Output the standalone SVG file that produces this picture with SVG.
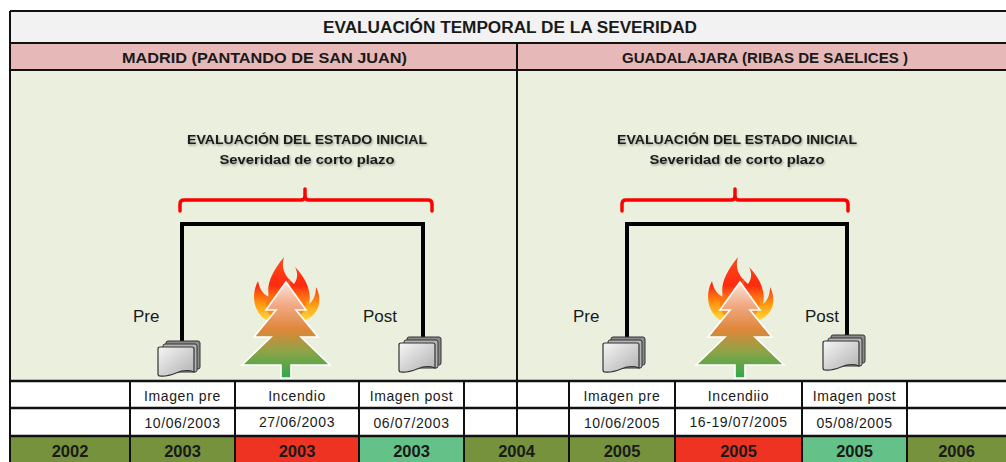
<svg xmlns="http://www.w3.org/2000/svg" width="1006" height="462" viewBox="0 0 1006 462">
  <style>
    .sans { font-family: "Liberation Sans", Arial, sans-serif; fill: #1a1a1a; }
    .title { font-size: 16px; font-weight: bold; }
    .site { font-size: 15px; font-weight: bold; }
    .head { font-size: 13px; font-weight: bold; }
    .tag { font-size: 17px; }
    .cell { font-size: 14px; letter-spacing: 0.6px; }
    .year { font-size: 16.5px; font-weight: bold; }
    .grid { stroke: #111; stroke-width: 2; fill: none; }
    .rule { stroke: #111; stroke-width: 2.6; fill: none; }
    .link { stroke: #000; stroke-width: 4; fill: none; }
    .brace { stroke: #f00; stroke-width: 3.5; fill: none; stroke-linejoin: round; stroke-linecap: round; }
  </style>
  <defs>
    <filter id="softShadow" x="-10%" y="-40%" width="120%" height="180%">
      <feDropShadow dx="1" dy="1.5" stdDeviation="1.2" flood-color="#000" flood-opacity="0.35"/>
    </filter>
    <linearGradient id="sheetFill" x1="0" y1="0" x2="1" y2="1">
      <stop offset="0" stop-color="#f6f6f6"/>
      <stop offset="1" stop-color="#b0b0b0"/>
    </linearGradient>
    <linearGradient id="flameFill" x1="0" y1="0" x2="0" y2="1">
      <stop offset="0" stop-color="#ff4a1a"/>
      <stop offset="0.45" stop-color="#ff2a10"/>
      <stop offset="0.75" stop-color="#ff9a10"/>
      <stop offset="1" stop-color="#ffd83a"/>
    </linearGradient>
    <linearGradient id="treeFill" x1="0" y1="0" x2="0" y2="1">
      <stop offset="0" stop-color="#fbe4d8"/>
      <stop offset="0.25" stop-color="#f1a882"/>
      <stop offset="0.5" stop-color="#de8638"/>
      <stop offset="0.72" stop-color="#8fa347"/>
      <stop offset="1" stop-color="#2fa84a"/>
    </linearGradient>

    <!-- stack of image sheets, 42 x 36 -->
    <g id="sheets">
      <rect x="8" y="0" width="34" height="28" rx="2" fill="#8a8a8a" stroke="#333" stroke-width="1"/>
      <rect x="5" y="3" width="34" height="28" rx="2" fill="#b5b5b5" stroke="#333" stroke-width="1"/>
      <path d="M0,8 Q0,6 2,6 L34,6 Q36,6 36,8 L36,31 Q28,28 18,32 Q8,36 2,35 Q0,35 0,33 Z" fill="url(#sheetFill)" stroke="#333" stroke-width="1.2"/>
    </g>

    <!-- burning tree, apex at (0,0) -->
    <g id="burningTree">
      <path d="M-20,38 C-33,30 -35,12 -28,-1 C-26,8 -23,12 -17,15 C-20,2 -14,-10 -2,-25 C-6,-12 1,-4 8,2 C12,-4 12,-9 9,-15 C20,-4 26,10 23,22 C28,18 30,12 30,5 C37,18 33,32 20,38 Z" fill="url(#flameFill)"/>
      <path d="M-12,36 C-22,30 -22,18 -16,10 C-14,18 -10,22 -6,24 C-8,14 -2,4 4,-4 C3,8 10,12 14,18 C16,14 16,12 15,8 C22,16 22,28 12,36 Z" fill="#ff6a12" opacity="0.55"/>
      <path d="M0,0 L20,28 L10,28 L32,55 L15,55 L44,83 L5,83 L5,96 L-5,96 L-5,83 L-44,83 L-15,55 L-32,55 L-10,28 L-20,28 Z" fill="url(#treeFill)" stroke="#ffffff" stroke-width="1.6" stroke-linejoin="miter"/>
    </g>
  </defs>

  <!-- background bands -->
  <rect x="10" y="11" width="996" height="32" fill="#f2f2f2"/>
  <rect x="10" y="43" width="996" height="27" fill="#e6b8b7"/>
  <rect x="10" y="70" width="996" height="311" fill="#ebf0de"/>
  <rect x="10" y="381" width="996" height="55" fill="#ffffff"/>

  <!-- year row -->
  <g id="years">
    <rect x="10" y="436" width="225" height="26" fill="#76923c"/>
    <rect x="235" y="436" width="124" height="26" fill="#ef3322"/>
    <rect x="359" y="436" width="105" height="26" fill="#64c188"/>
    <rect x="464" y="436" width="211" height="26" fill="#76923c"/>
    <rect x="675" y="436" width="127" height="26" fill="#ef3322"/>
    <rect x="802" y="436" width="105" height="26" fill="#64c188"/>
    <rect x="907" y="436" width="99" height="26" fill="#76923c"/>
  </g>

  <!-- frame and grid -->
  <g id="grid">
    <path class="grid" d="M10,11 H1006 M10,11 V462"/>
    <path class="grid" d="M10,43 H1006 M10,70 H1006"/>
    <path class="grid" d="M517,43 V408"/>
    <path class="rule" d="M10,381 H1006 M10,408 H1006 M10,436 H1006"/>
    <path class="grid" d="M130,381 V462 M235,381 V462 M359,381 V462 M464,381 V462 M569,381 V462 M675,381 V462 M802,381 V462 M907,381 V462"/>
    <path class="grid" d="M517,408 V436"/>
  </g>

  <!-- headings -->
  <text class="sans title" x="510" y="33" text-anchor="middle" textLength="374" lengthAdjust="spacingAndGlyphs">EVALUACIÓN TEMPORAL DE LA SEVERIDAD</text>
  <text class="sans site" x="264.5" y="63" text-anchor="middle" textLength="285" lengthAdjust="spacingAndGlyphs">MADRID (PANTANDO DE SAN JUAN)</text>
  <text class="sans site" x="765" y="63" text-anchor="middle" textLength="286" lengthAdjust="spacingAndGlyphs">GUADALAJARA (RIBAS DE SAELICES )</text>

  <!-- connectors -->
  <g id="connectors">
    <path class="link" d="M182,344 V224 H423 V340"/>
    <path class="link" d="M627,340 V224 H847 V338"/>
    <path class="brace" d="M180,211 V204 Q180,200 184,200 H301 Q305,200 305,196 V189 M305,196 Q305,200 309,200 H428 Q432,200 432,204 V211"/>
    <path class="brace" d="M622,211 V204 Q622,200 626,200 H731 Q735,200 735,196 V189 M735,196 Q735,200 739,200 H844 Q848,200 848,204 V211"/>
  </g>

  <!-- Madrid panel -->
  <g id="madrid-heading" filter="url(#softShadow)">
    <text class="sans head" x="307" y="144" text-anchor="middle" textLength="240" lengthAdjust="spacingAndGlyphs">EVALUACIÓN DEL ESTADO INICIAL</text>
    <text class="sans head" x="307" y="164" text-anchor="middle" textLength="175" lengthAdjust="spacingAndGlyphs">Severidad de corto plazo</text>
  </g>
  <g id="madrid-pre">
    <text class="sans tag" x="133" y="322">Pre</text>
    <use href="#sheets" transform="translate(158,341)"/>
  </g>
  <g id="madrid-fire">
    <use href="#burningTree" transform="translate(286,282)"/>
  </g>
  <g id="madrid-post">
    <text class="sans tag" x="363" y="322">Post</text>
    <use href="#sheets" transform="translate(399,337)"/>
  </g>

  <!-- Guadalajara panel -->
  <g id="guadalajara-heading" filter="url(#softShadow)">
    <text class="sans head" x="737" y="144" text-anchor="middle" textLength="240" lengthAdjust="spacingAndGlyphs">EVALUACIÓN DEL ESTADO INICIAL</text>
    <text class="sans head" x="737" y="164" text-anchor="middle" textLength="175" lengthAdjust="spacingAndGlyphs">Severidad de corto plazo</text>
  </g>
  <g id="guadalajara-pre">
    <text class="sans tag" x="573" y="322">Pre</text>
    <use href="#sheets" transform="translate(603,337)"/>
  </g>
  <g id="guadalajara-fire">
    <use href="#burningTree" transform="translate(740,282)"/>
  </g>
  <g id="guadalajara-post">
    <text class="sans tag" x="805" y="322">Post</text>
    <use href="#sheets" transform="translate(823,335)"/>
  </g>

  <!-- table labels -->
  <g id="table-labels" text-anchor="middle">
    <text class="sans cell" x="182.5" y="401">Imagen pre</text>
    <text class="sans cell" x="297" y="401">Incendio</text>
    <text class="sans cell" x="411.5" y="401">Imagen post</text>
    <text class="sans cell" x="622" y="401">Imagen pre</text>
    <text class="sans cell" x="738.5" y="401">Incendiio</text>
    <text class="sans cell" x="854.5" y="401">Imagen post</text>

    <text class="sans cell" x="182.5" y="428">10/06/2003</text>
    <text class="sans cell" x="297" y="427">27/06/2003</text>
    <text class="sans cell" x="411.5" y="428">06/07/2003</text>
    <text class="sans cell" x="622" y="428">10/06/2005</text>
    <text class="sans cell" x="738.5" y="427">16-19/07/2005</text>
    <text class="sans cell" x="854.5" y="428">05/08/2005</text>

    <text class="sans year" x="70" y="457">2002</text>
    <text class="sans year" x="182.5" y="457">2003</text>
    <text class="sans year" x="297" y="457">2003</text>
    <text class="sans year" x="411.5" y="457">2003</text>
    <text class="sans year" x="516.5" y="457">2004</text>
    <text class="sans year" x="622" y="457">2005</text>
    <text class="sans year" x="738.5" y="457">2005</text>
    <text class="sans year" x="854.5" y="457">2005</text>
    <text class="sans year" x="956.5" y="457">2006</text>
  </g>
</svg>
